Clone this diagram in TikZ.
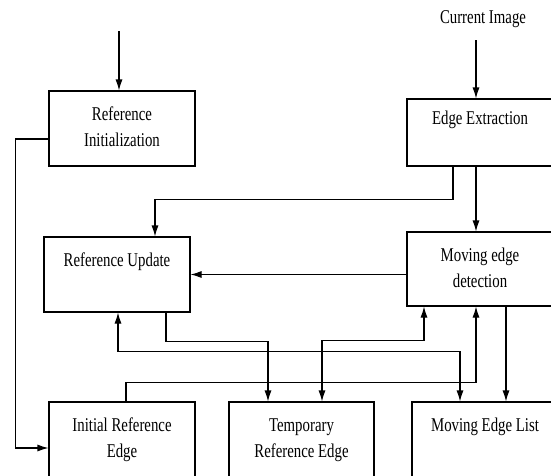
\documentclass[tikz,border=0pt]{standalone}
\usepackage{fontspec}
\setmainfont{Liberation Serif}
\usetikzlibrary{arrows.meta}

\newcommand{\boxtext}[1]{\scalebox{0.76}[1]{\begin{tabular}{@{}c@{}}#1\end{tabular}}}

\tikzset{
  block/.style={draw, line width=1.1pt, minimum width=146pt, minimum height=75pt, inner sep=0pt,
    font=\fontsize{19.5}{26}\selectfont},
  arr/.style={line width=1.1pt, -{Latex[length=11pt,width=7pt]}},
  arrboth/.style={line width=1.1pt, {Latex[length=11pt,width=7pt]}-{Latex[length=11pt,width=7pt]}}
}

\begin{document}
\begin{tikzpicture}[x=1pt,y=-1pt]
\useasboundingbox (0,0) rectangle (551,475);

% blocks
\node[block] (init) at (122,128.5) {\boxtext{Reference\\Initialization}};
\node[block, minimum height=67pt] (extract) at (480,132.5) {\boxtext{Edge Extraction\\~}};
\node[block] (update) at (117,274.5) {\boxtext{Reference Update\\~}};
\node[block, minimum height=74pt] (detect) at (480,269) {\boxtext{Moving edge\\detection}};
\node[block] (initedge) at (122,439.5) {\boxtext{Initial Reference\\Edge}};
\node[block, minimum width=145pt] (tempedge) at (301.5,439.5) {\boxtext{Temporary\\Reference Edge}};
\node[block] (edgelist) at (485,439.5) {\boxtext{Moving Edge List\\~}};
\node[font=\fontsize{19.5}{26}\selectfont] (current) at (483,19) {\scalebox{0.76}[1]{Current Image}};
\coordinate (inittop) at (119,31);

% connectors
\draw[arr] (inittop) -- (inittop |- init.north);
\draw[arr] ([xshift=-7pt,yshift=-9pt]current.south) -- ([xshift=-4pt]extract.north);
\draw[arr] ([yshift=-10.5pt]init.west) -- ++(-33,0) |- ([yshift=-8.5pt]initedge.west);
\draw[arr] ([xshift=-27pt]extract.south) -- ++(0,33) -| ([xshift=38pt]update.north);
\draw[arr] ([xshift=-4pt]extract.south) -- ([xshift=-4pt]detect.north);
\draw[arr] (detect.west |- update.east) -- (update.east);
\draw[arr] ([xshift=49pt]update.south) -- ++(0,29) -| ([xshift=-33.5pt]tempedge.north);
\draw[arrboth] ([xshift=1pt]update.south) -- ++(0,39) -| ([xshift=-25pt]edgelist.north);
\draw[arrboth] ([xshift=20.5pt]tempedge.north) -- ++(0,-61) -| ([xshift=-56pt]detect.south);
\draw[arr] ([xshift=4pt]initedge.north) -- ++(0,-19) -| ([xshift=-4pt]detect.south);
\draw[arr] ([xshift=26pt]detect.south) -- ([xshift=26pt]detect.south |- edgelist.north);
\end{tikzpicture}
\end{document}
